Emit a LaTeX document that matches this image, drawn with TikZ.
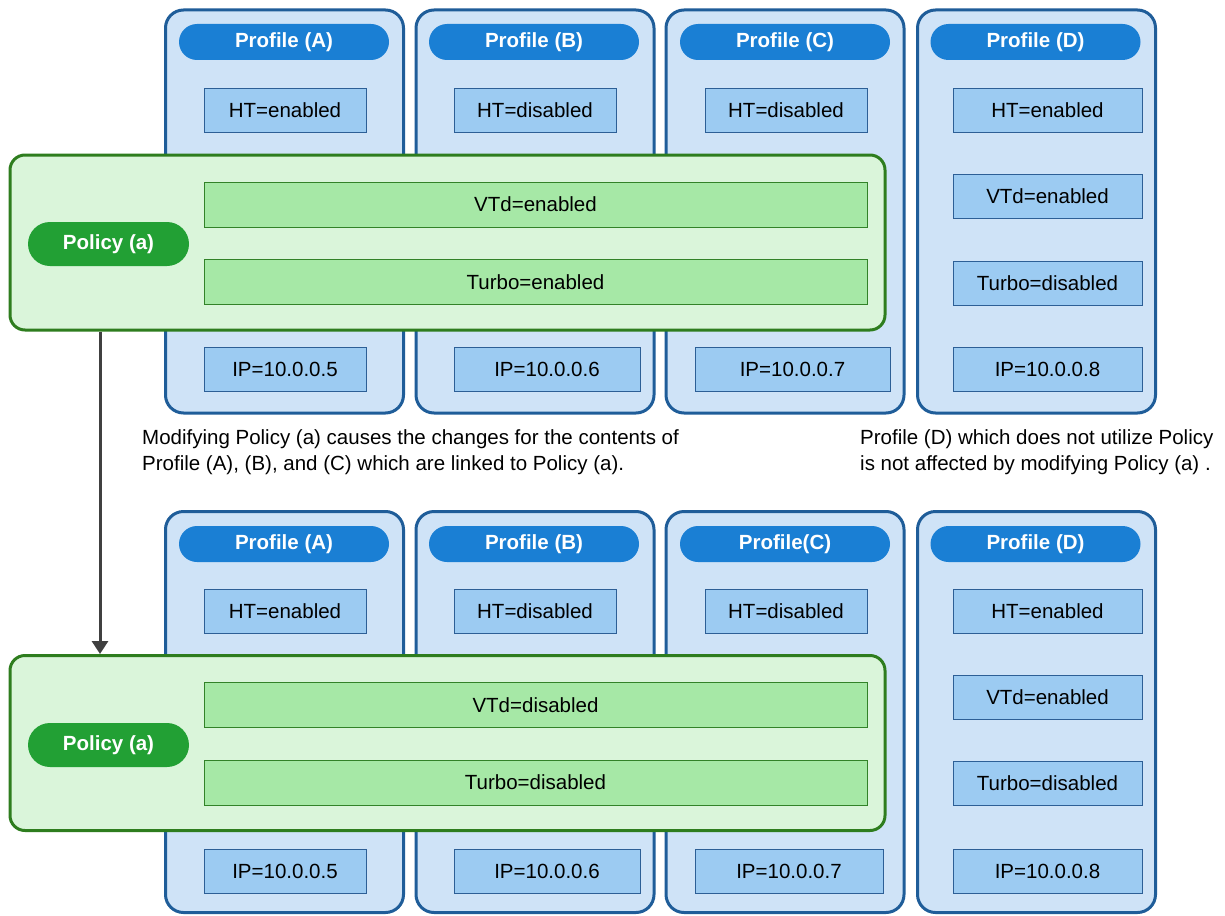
\documentclass[tikz,border=0pt]{standalone}
\usepackage{fontspec}
\setmainfont{Liberation Sans}
\usetikzlibrary{arrows.meta}

\definecolor{proffill}{RGB}{207,227,247}
\definecolor{profline}{RGB}{31,93,153}
\definecolor{profhead}{RGB}{26,127,212}
\definecolor{itemfill}{RGB}{156,203,242}
\definecolor{itemline}{RGB}{45,95,150}
\definecolor{polfill}{RGB}{218,245,218}
\definecolor{polline}{RGB}{46,125,30}
\definecolor{polhead}{RGB}{34,160,52}
\definecolor{barfill}{RGB}{166,232,166}
\definecolor{barline}{RGB}{50,130,40}
\definecolor{arrowgray}{RGB}{64,64,64}

\newcommand{\txtsize}{\fontsize{20.5}{26}\selectfont}

\tikzstyle{profile}=[draw=profline, fill=proffill, line width=3pt,
	rounded corners=18pt, minimum width=238pt, inner sep=0]
\tikzstyle{profhd}=[fill=profhead, text=white, rounded corners=18pt,
	minimum width=210pt, minimum height=36pt, inner sep=0, font=\txtsize\bfseries]
\tikzstyle{item}=[draw=itemline, fill=itemfill, line width=0.8pt,
	minimum height=44pt, inner sep=0]
\tikzstyle{policy}=[draw=polline, fill=polfill, line width=3pt,
	rounded corners=15pt, minimum width=875pt, minimum height=175pt, inner sep=0]
\tikzstyle{polhd}=[fill=polhead, text=white, rounded corners=22pt,
	minimum width=161pt, minimum height=44pt, inner sep=0, font=\txtsize\bfseries]
\tikzstyle{bar}=[draw=barline, fill=barfill, line width=0.8pt,
	minimum width=663pt, minimum height=45pt, inner sep=0]

\begin{document}
\begin{tikzpicture}[x=1pt, y=-1pt, font=\txtsize]
	\useasboundingbox[fill=white] (0,0) rectangle (1225,915);

	% before
	\node[profile, minimum height=403pt] (pA1) at (284.5,211.5) {};
	\node[profile, minimum height=403pt] (pB1) at (535,211.5) {};
	\node[profile, minimum height=403pt] (pC1) at (785,211.5) {};
	\node[profile, minimum height=403pt] (pD1) at (1036.5,211.5) {};

	\node[profhd] (hA1) at (284,42) {Profile (A)};
	\node[profhd] (hB1) at (534,42) {Profile (B)};
	\node[profhd] (hC1) at (785,42) {Profile (C)};
	\node[profhd] (hD1) at (1035.5,42) {Profile (D)};

	\node[item, minimum width=162pt] (htA1) at (285,110) {HT=enabled};
	\node[item, minimum width=162pt] (htB1) at (535,110) {HT=disabled};
	\node[item, minimum width=162pt] (htC1) at (786,110) {HT=disabled};
	\node[item, minimum width=189pt] (htD1) at (1047.5,110) {HT=enabled};
	\node[item, minimum width=189pt] (vtD1) at (1047.5,196.5) {VTd=enabled};
	\node[item, minimum width=189pt] (tbD1) at (1047.5,283) {Turbo=disabled};

	\node[item, minimum width=162pt] (ipA1) at (285,369) {IP=10.0.0.5};
	\node[item, minimum width=186pt] (ipB1) at (547,369) {IP=10.0.0.6};
	\node[item, minimum width=195pt] (ipC1) at (792.5,369) {IP=10.0.0.7};
	\node[item, minimum width=189pt] (ipD1) at (1047.5,369) {IP=10.0.0.8};

	\node[policy] (pol1) at (447.5,242.5) {};
	\node[polhd] (polhd1) at (108.5,244) {Policy (a)};
	\node[bar] (vt1) at (535.5,204.5) {VTd=enabled};
	\node[bar] (tb1) at (535.5,282) {Turbo=enabled};

	\node[anchor=north west, align=left, inner sep=0] (note1) at (142,429)
		{Modifying Policy (a) causes the changes for the contents of\\
		Profile (A), (B), and (C) which are linked to Policy (a).};
	\node[anchor=north west, align=left, inner sep=0] (note2) at (860,429)
		{Profile (D) which does not utilize Policy\\
		is not affected by modifying Policy (a) .};

	% after
	\node[profile, minimum height=401pt] (pA2) at (284.5,712) {};
	\node[profile, minimum height=401pt] (pB2) at (535,712) {};
	\node[profile, minimum height=401pt] (pC2) at (785,712) {};
	\node[profile, minimum height=401pt] (pD2) at (1036.5,712) {};

	\node[profhd] (hA2) at (284,544) {Profile (A)};
	\node[profhd] (hB2) at (534,544) {Profile (B)};
	\node[profhd] (hC2) at (785,544) {Profile(C)};
	\node[profhd] (hD2) at (1035.5,544) {Profile (D)};

	\node[item, minimum width=162pt] (htA2) at (285,611) {HT=enabled};
	\node[item, minimum width=162pt] (htB2) at (535,611) {HT=disabled};
	\node[item, minimum width=162pt] (htC2) at (786,611) {HT=disabled};
	\node[item, minimum width=189pt] (htD2) at (1047.5,611) {HT=enabled};
	\node[item, minimum width=189pt] (vtD2) at (1047.5,697) {VTd=enabled};
	\node[item, minimum width=189pt] (tbD2) at (1047.5,783) {Turbo=disabled};

	\node[item, minimum width=162pt] (ipA2) at (285,871) {IP=10.0.0.5};
	\node[item, minimum width=186pt] (ipB2) at (547,871) {IP=10.0.0.6};
	\node[item, minimum width=188pt] (ipC2) at (789,871) {IP=10.0.0.7};
	\node[item, minimum width=189pt] (ipD2) at (1047.5,871) {IP=10.0.0.8};

	\node[policy] (pol2) at (447.5,743) {};
	\node[polhd] (polhd2) at (108.5,745) {Policy (a)};
	\node[bar] (vt2) at (535.5,705) {VTd=disabled};
	\node[bar] (tb2) at (535.5,782.5) {Turbo=disabled};

	\draw[arrowgray, line width=3pt, -{Triangle[length=13pt, width=16pt]}]
		(pol1.south -| 100,0) -- (pol2.north -| 100,0);
\end{tikzpicture}
\end{document}
